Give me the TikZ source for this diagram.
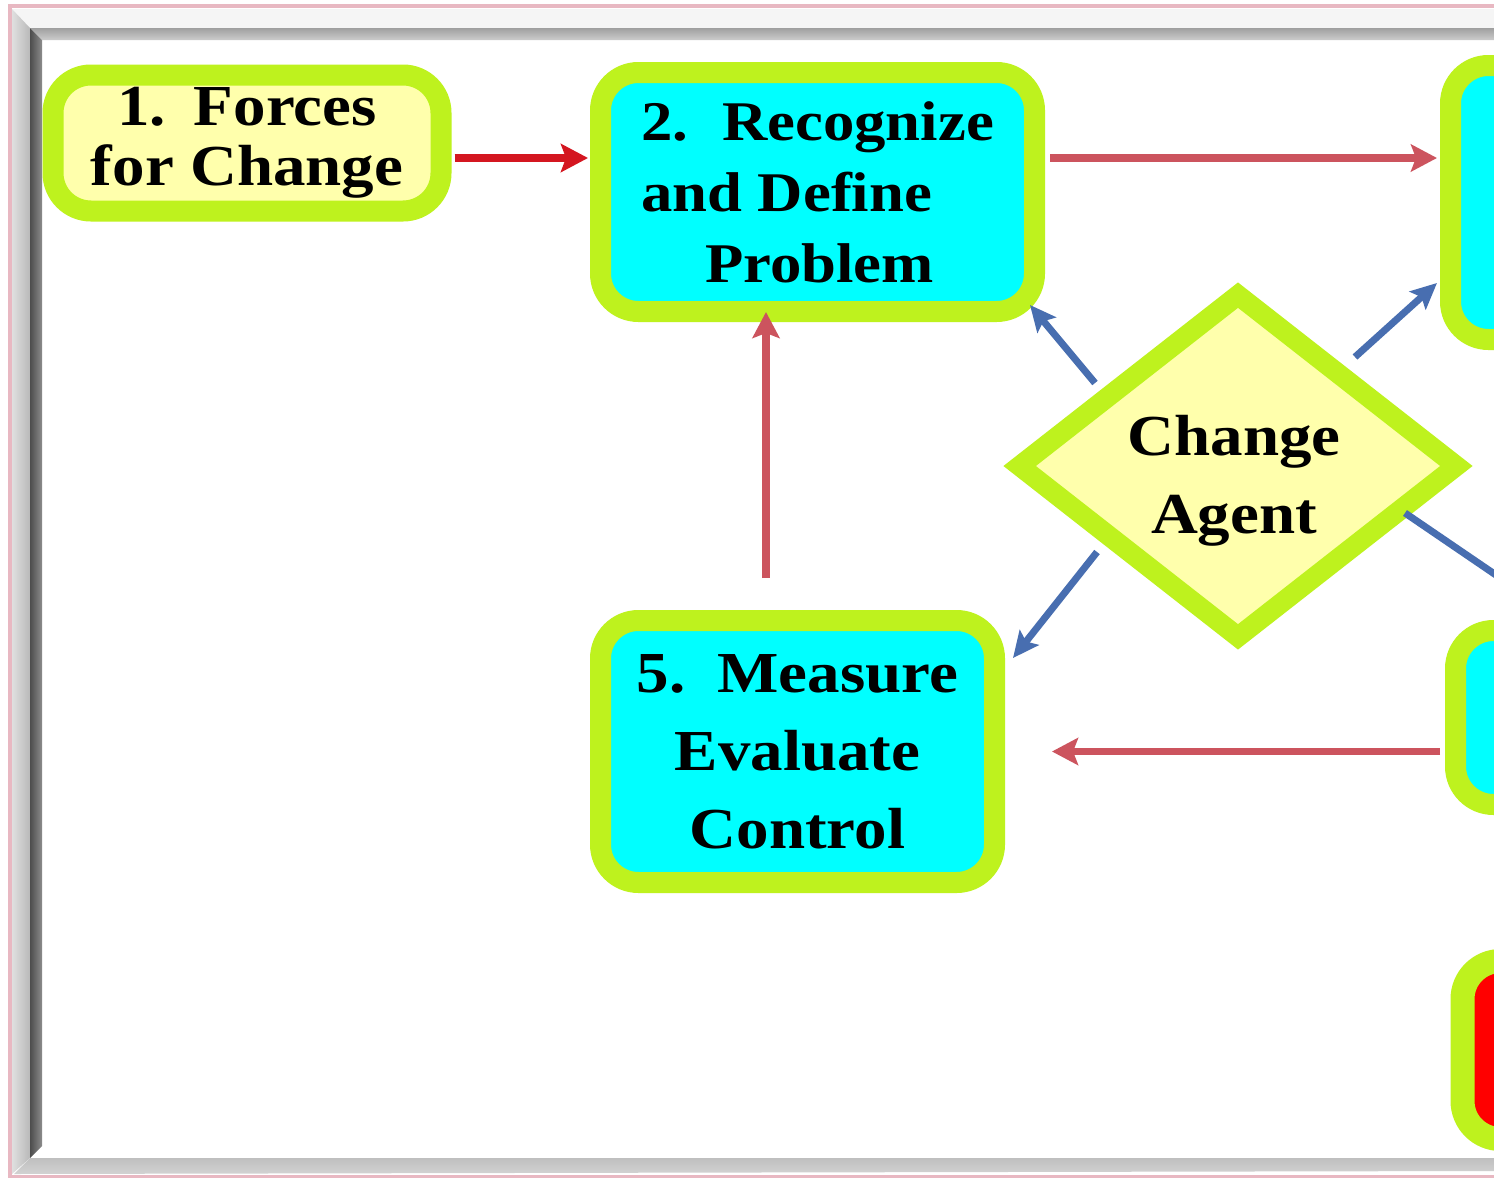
\documentclass[tikz,border=0pt]{standalone}
\usepackage{fontspec}
\newfontfamily\lbf{Liberation Serif}[FakeStretch=1.12]
\usetikzlibrary{shapes.geometric,arrows.meta,calc}
\definecolor{ringg}{RGB}{190,242,30}
\definecolor{pyel}{RGB}{255,255,172}
\definecolor{cyanf}{RGB}{0,255,255}
\definecolor{redbox}{RGB}{255,0,0}
\definecolor{redA}{RGB}{212,22,32}
\definecolor{redB}{RGB}{204,84,94}
\definecolor{blueA}{RGB}{72,110,176}
\definecolor{pinkc}{RGB}{232,184,194}
\begin{document}
\begin{tikzpicture}[x=1pt,y=-1pt,
  ringbox/.style={draw=ringg,line width=21pt,rounded corners=38pt,inner sep=0pt,text=black},
  redtipA/.style={draw=redA,line width=8pt,-{Stealth[length=27pt,width=28pt,inset=5pt]}},
  redtipB/.style={draw=redB,line width=7.5pt,-{Stealth[length=26pt,width=27pt,inset=5pt]}},
  bluetip/.style={draw=blueA,line width=7pt,-{Stealth[length=26pt,width=24pt,inset=5pt]}}
]
\useasboundingbox (0,0) rectangle (1494,1178);
\clip (0,0) rectangle (1494,1178);
\fill[white] (0,0) rectangle (1494,1178);
% frame
\fill[gray!8] (12,9) -- (1494,9) -- (1494,28) -- (30,28) -- cycle;
\shade[left color=gray!25, right color=gray!55] (12,9) -- (30,28) -- (30,1158) -- (12,1174) -- cycle;
\shade[top color=gray!75, bottom color=gray!40] (30,28) -- (1494,28) -- (1494,40) -- (42,40) -- cycle;
\shade[left color=black!70, right color=black!45] (30,28) -- (42,40) -- (42,1146) -- (30,1158) -- cycle;
\shade[top color=gray!50, bottom color=gray!35] (30,1158) -- (1494,1158) -- (1494,1171) -- (14,1174) -- cycle;
\draw[pinkc,line width=4pt] (10,1178) -- (10,6) -- (1494,6);
\draw[pinkc,line width=3pt] (10,1176) -- (1494,1176);
% nodes
\node[ringbox,fill=pyel,minimum width=388pt,minimum height=136pt,align=center,
  font=\lbf\bfseries\fontsize{58}{60}\selectfont] (b1) at (247,143)
  {1.\hspace{28pt}Forces\\for Change};
\node[ringbox,fill=cyanf,minimum width=434pt,minimum height=239pt,align=left,
  font=\lbf\bfseries\fontsize{56}{71}\selectfont] (b2) at (817.5,192)
  {2.\hspace{34pt}Recognize\\and Define\\\hspace*{64pt}Problem};
\node[ringbox,fill=cyanf,minimum width=449pt,minimum height=274pt] (b3) at (1675,202.5) {};
\node[ringbox,fill=cyanf,minimum width=449pt,minimum height=174pt] (b4) at (1680,717.5) {};
\node[ringbox,fill=cyanf,minimum width=394pt,minimum height=262pt,align=center,
  font=\lbf\bfseries\fontsize{58}{78}\selectfont] (b5) at (797.5,751.5)
  {5.\hspace{32pt}Measure\\Evaluate\\Control};
\node[ringbox,fill=redbox,line width=24pt,minimum width=455pt,minimum height=178pt] (b6) at (1690,1050) {};
\node[diamond,draw=ringg,fill=pyel,line width=20pt,minimum width=445pt,minimum height=350pt,inner sep=0pt] (ca) at (1238,466) {};
\node[align=center,inner sep=0pt,font=\lbf\bfseries\fontsize{58}{78}\selectfont] (cat) at (1234,481) {Change\\Agent};
% connectors
\coordinate (r1) at ([yshift=-15pt]b1.east);
\draw[redtipA,shorten <=3pt,shorten >=2pt] (r1) -- (r1 -| b2.west);
\draw[redtipB,shorten <=5pt,shorten >=3pt] (r1 -| b2.east) -- (r1 -| b3.west);
\coordinate (r5) at ([xshift=-31.5pt]b5.north);
\draw[redtipB,shorten <=32pt,shorten >=-10pt] (r5) -- (r5 |- b2.south);
\draw[redtipB,shorten <=5pt,shorten >=47pt] (b4.west |- b5.east) -- (b5.east);
\draw[bluetip] ($(ca)+(-143,-83)$) -- ($(b2.south east)+(-15,-17)$);
\draw[bluetip] ($(ca)+(117,-109)$) -- ($(b3.south west)+(-3,-67)$);
\draw[bluetip] ($(ca)+(-141,86)$) -- ($(b5.north east)+(8,48)$);
\draw[bluetip] ($(ca)+(167,47)$) -- ($(b4.north west)+(117,0)$);
\end{tikzpicture}
\end{document}
